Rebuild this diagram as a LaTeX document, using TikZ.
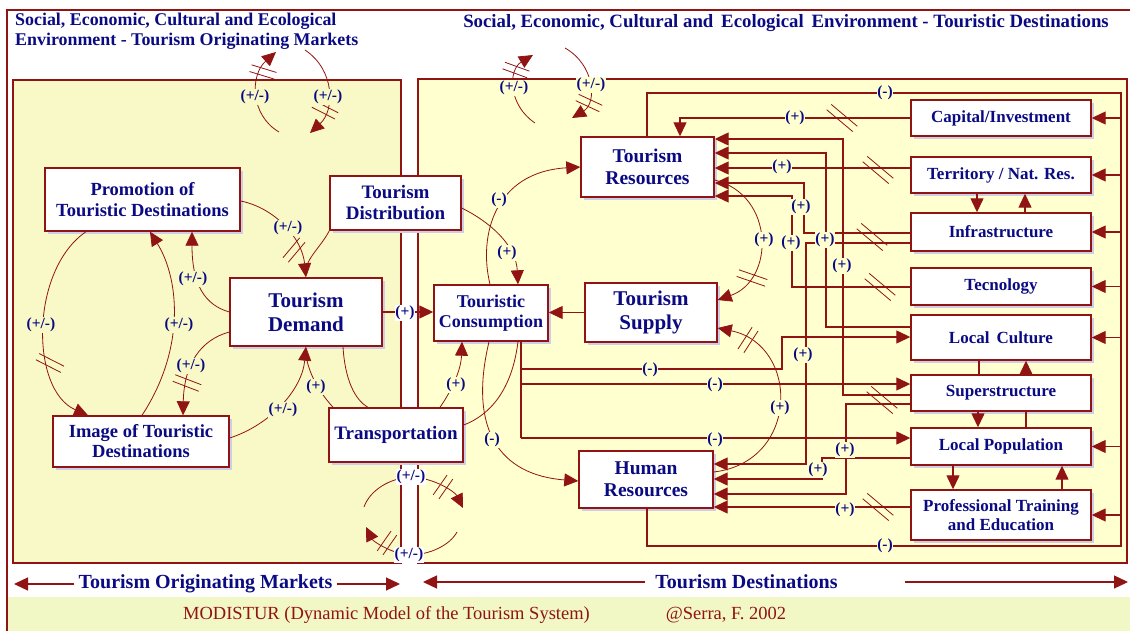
\documentclass[tikz,border=0pt]{standalone}
\usepackage{fontspec}
\setmainfont{Liberation Serif}
\usetikzlibrary{arrows.meta,shadows}

\definecolor{linkred}{RGB}{145,20,20}
\definecolor{textblue}{RGB}{10,10,130}
\definecolor{origfill}{RGB}{248,249,198}
\definecolor{destfill}{RGB}{255,255,208}
\definecolor{bandfill}{RGB}{242,247,198}
\definecolor{shade}{RGB}{205,205,230}

% two short strokes across a link = delay
\newcommand{\delaymark}[3]{%
  \draw[delayline] (#1) ++(#2+90:3.5) ++(#2:-#3/2) -- ++(#2:#3);
  \draw[delayline] (#1) ++(#2-90:3.5) ++(#2:-#3/2) -- ++(#2:#3);
}

\begin{document}
\begin{tikzpicture}[x=1pt,y=-1pt,
  box/.style={draw=linkred,line width=1.4pt,fill=white,align=center,text=textblue,inner sep=1pt,
    drop shadow={shadow xshift=3pt,shadow yshift=-3pt,fill=shade,opacity=1}},
  rbox/.style={box,minimum width=180pt,minimum height=36pt,font=\fontsize{17}{19}\selectfont\bfseries},
  link/.style={draw=linkred,line width=1.3pt},
  curv/.style={draw=linkred,line width=0.8pt},
  arr/.style={-{Triangle[length=14pt,width=13pt]}},
  lbl/.style={text=textblue,font=\fontsize{15.5}{15.5}\selectfont\bfseries,inner sep=0.5pt,fill=destfill},
  delayline/.style={draw=linkred,line width=0.8pt},
  panel/.style={draw=linkred,line width=2.5pt},
  bandtext/.style={text=textblue,font=\fontsize{20}{20}\selectfont\bfseries,inner sep=0pt},
]
\useasboundingbox (0,0) rectangle (1130,631);

% frame and the two panels
\fill[bandfill] (7,597) rectangle (1132,633);
\draw[linkred,line width=1.2pt] (1132,10) -- (7,10) -- (7,633);
\draw[panel,fill=origfill] (13,80) rectangle (401,563);
\draw[panel,fill=destfill] (418,79) rectangle (1127,563);

\node[anchor=north west,align=left,text=textblue,inner sep=0pt,
  font=\fontsize{17.9}{20}\selectfont\bfseries] (origtitle) at (15,13)
  {Social, Economic, Cultural and Ecological\\Environment - Tourism Originating Markets};
\node[anchor=base,text=textblue,inner sep=0pt,font=\fontsize{18.8}{20}\selectfont\bfseries]
  (desttitle) at (786,28)
  {Social, Economic, Cultural and\, Ecological\, Environment - Touristic Destinations};

% originating markets
\node[box,minimum width=195pt,minimum height=63pt,font=\fontsize{18.5}{21}\selectfont\bfseries]
  (prom) at (142.5,199.5) {Promotion of\\Touristic Destinations};
\node[box,minimum width=131pt,minimum height=54pt,font=\fontsize{19}{21}\selectfont\bfseries]
  (dist) at (395.5,203) {Tourism\\Distribution};
\node[box,minimum width=152pt,minimum height=68pt,font=\fontsize{21}{24}\selectfont\bfseries]
  (dem) at (306,312) {Tourism\\Demand};
\node[box,minimum width=134pt,minimum height=54pt,font=\fontsize{19}{21}\selectfont\bfseries]
  (transp) at (396,435) {Transportation};
\node[box,minimum width=176pt,minimum height=51pt,font=\fontsize{18.5}{20}\selectfont\bfseries]
  (img) at (141,441.5) {Image of Touristic\\Destinations};

% destinations
\node[box,minimum width=114pt,minimum height=56pt,font=\fontsize{18}{20}\selectfont\bfseries]
  (cons) at (491,313) {Touristic\\Consumption};
\node[box,minimum width=132pt,minimum height=59pt,font=\fontsize{21}{24}\selectfont\bfseries]
  (sup) at (651,312.5) {Tourism\\Supply};
\node[box,minimum width=133pt,minimum height=60pt,font=\fontsize{19.5}{22}\selectfont\bfseries]
  (res) at (647.5,167) {Tourism\\Resources};
\node[box,minimum width=134pt,minimum height=57pt,font=\fontsize{19.5}{22}\selectfont\bfseries]
  (hr) at (646,479.5) {Human\\Resources};

\node[rbox] (cap) at (1001,118) {Capital/Investment};
\node[rbox] (terr) at (1001,175) {Territory / Nat. Res.};
\node[rbox,minimum height=38pt] (infra) at (1001,232) {Infrastructure};
\node[rbox,minimum height=37pt] (tec) at (1001,286.5) {Tecnology};
\node[rbox,minimum height=45pt] (cult) at (1001,337.5) {Local\, Culture};
\node[rbox] (supstr) at (1001,393) {Superstructure};
\node[rbox,minimum height=37pt] (pop) at (1001,446.5) {Local Population};
\node[rbox,minimum height=50pt] (train) at (1001,515) {Professional Training\\and Education};

% loops in the originating markets
\draw[curv,arr] (prom.east |- 0,201) .. controls (275,208) and (302,238) .. (dem.north);
\draw[curv] (dist.south west) .. controls (322,245) and (309,256) .. (dem.north |- 0,268);
\draw[curv,arr] (dem.west |- 0,312) .. controls (205,305) and (192,285) .. (192,0 |- prom.south);
\draw[curv,arr] (dem.west |- 0,332) .. controls (200,340) and (184,365) .. (183,0 |- img.north);
\draw[curv,arr] (142,0 |- img.north) .. controls (185,350) and (180,280) .. (150,0 |- prom.south);
\draw[curv,arr] (86,0 |- prom.south) .. controls (30,270) and (30,390) .. (88,0 |- img.north);
\draw[curv,arr] (img.east |- 0,438) .. controls (270,425) and (302,390) .. (dem.south);
\draw[curv] (333,0 |- transp.north) .. controls (322,395) and (310,378) .. (dem.south |- 0,356);
\draw[curv] (343,0 |- dem.south) .. controls (345,380) and (355,400) .. (368,0 |- transp.north);
\draw[link,arr] (dem.east) -- (cons.west |- dem.east);

% environment loops
\draw[curv,arr] (279,132) .. controls (250,115) and (250,75) .. (276,52);
\draw[curv,arr] (305,50) .. controls (335,70) and (335,110) .. (310,133);
\draw[curv,arr] (535,123) .. controls (508,105) and (508,70) .. (533,55);
\draw[curv,arr] (565,48) .. controls (595,65) and (597,103) .. (572,118);
\draw[curv,arr] (364,507) .. controls (370,490) and (390,478) .. (411,477)
  .. controls (435,478) and (455,492) .. (463,508);
\draw[curv,arr] (457,532) .. controls (450,545) and (430,555) .. (409,555)
  .. controls (390,553) and (373,541) .. (366,527);

% loops in the destinations
\draw[curv,arr] (dist.east |- 0,208) .. controls (490,222) and (516,245) .. (518,0 |- cons.north);
\draw[curv,arr] (490,0 |- cons.north) .. controls (478,235) and (495,172) .. (res.west);
\draw[curv,arr] (res.east |- 0,180) .. controls (775,195) and (775,280) .. (sup.east |- 0,300);
\draw[curv,arr] (hr.east |- 0,472) .. controls (800,462) and (800,345) .. (sup.east |- 0,328);
\draw[curv,arr] (489,0 |- cons.south) .. controls (468,430) and (500,475) .. (hr.west |- 0,481);
\draw[curv] (518,0 |- cons.south) .. controls (512,390) and (490,415) .. (transp.east |- 0,425);
\draw[curv,arr] (440,0 |- transp.north) .. controls (452,390) and (461,370) .. (462,0 |- cons.south);
\draw[link,arr] (sup.west) -- (cons.east |- sup.west);

% feedback from resources and human resources
\draw[link] (647,0 |- res.north) -- (647,93) -- (1121,93) -- (1121,546) -- (647,546) -- (647,0 |- hr.south);
\foreach \b in {cap,terr,infra,tec,cult,pop,train}
  \draw[link,arr] (1121,0 |- \b.east) -- (\b.east);

\draw[link,arr] (cap.west) -- (680,118) -- (680,0 |- res.north);
\draw[link,arr] (supstr.west |- 0,395) -- (843,395) -- (843,139) -- (res.east |- 0,139);
\draw[link,arr] (cult.west |- 0,327) -- (826,327) -- (826,153) -- (res.east |- 0,153);
\draw[link,arr] (terr.west |- 0,168) -- (res.east |- 0,168);
\draw[link,arr] (infra.west |- 0,233) -- (804,233) -- (804,183) -- (res.east |- 0,183);
\draw[link,arr] (tec.west |- 0,287) -- (792,287) -- (792,196) -- (res.east |- 0,196);

\draw[link,arr] (infra.west |- 0,243) -- (806,243) -- (806,464) -- (hr.east |- 0,464);
\draw[link,arr] (pop.west |- 0,458) -- (822,458) -- (822,479) -- (hr.east |- 0,479);
\draw[link,arr] (supstr.west |- 0,404) -- (846,404) -- (846,494) -- (hr.east |- 0,494);
\draw[link,arr] (train.west |- 0,507) -- (hr.east |- 0,507);

\draw[link] (521,0 |- cons.south) -- (521,438);
\draw[link,arr] (521,369) -- (782,369) -- (782,337) -- (cult.west |- 0,337);
\draw[link,arr] (521,384) -- (supstr.west |- 0,384);
\draw[link,arr] (521,438) -- (pop.west |- 0,438);

% between the environment boxes
\draw[link,arr] (977,0 |- terr.south) -- (977,0 |- infra.north);
\draw[link,arr] (1025,0 |- infra.north) -- (1025,0 |- terr.south);
\draw[link] (979,0 |- cult.south) -- (979,0 |- supstr.north);
\draw[link,arr] (1026,0 |- supstr.north) -- (1026,0 |- cult.south);
\draw[link,arr] (978,0 |- supstr.south) -- (978,0 |- pop.north);
\draw[link] (1026,0 |- pop.north) -- (1026,0 |- supstr.south);
\draw[link,arr] (953,0 |- pop.south) -- (953,0 |- train.north);
\draw[link,arr] (1062,0 |- train.north) -- (1062,0 |- pop.south);

% delays
\delaymark{294,250}{-50}{26}
\delaymark{50,363}{27}{28}
\delaymark{187,383}{21}{28}
\delaymark{263,72}{17}{26}
\delaymark{325,110}{27}{26}
\delaymark{516,70}{20}{26}
\delaymark{589,103}{25}{26}
\delaymark{443,487}{-55}{24}
\delaymark{387,543}{-55}{24}
\delaymark{842,118}{40}{34}
\delaymark{878,170}{40}{34}
\delaymark{872,237}{40}{34}
\delaymark{880,287}{40}{34}
\delaymark{882,400}{40}{34}
\delaymark{878,507}{40}{34}
\delaymark{752,278}{19}{30}
\delaymark{748,340}{-57}{26}

% polarities
\foreach \x/\y [count=\i] in {288/228,193/279,191/366,179/325,41/325,283/410,255/97,328/97}
  \node[lbl,fill=origfill] (pmo\i) at (\x,\y) {(+/-)};
\node[lbl,fill=origfill] (plo1) at (316,387) {(+)};
\node[lbl,fill=white] (plg1) at (405,313) {(+)};
\foreach \x/\y [count=\i] in {411/477,409/555}
  \node[lbl,fill=white] (pmg\i) at (\x,\y) {(+/-)};
\foreach \x/\y [count=\i] in {514/88,591/85}
  \node[lbl] (pmd\i) at (\x,\y) {(+/-)};
\foreach \x/\y [count=\i] in {795/118,782/167,801/207,764/240,791/243,825/240,842/266,
    803/355,780/408,845/450,818/470,845/510,507/253,456/385}
  \node[lbl] (pld\i) at (\x,\y) {(+)};
\foreach \x/\y [count=\i] in {885/93,885/546,650/370,715/385,715/440,499/200,492/440}
  \node[lbl] (mid\i) at (\x,\y) {(-)};

% bottom band
\node[bandtext,inner xsep=4pt] (origmk) at (205.5,584) {Tourism Originating Markets};
\draw[link,arr] (origmk.west) -- (14,0 |- origmk.west);
\draw[link,arr] (origmk.east) -- (400,0 |- origmk.east);
\node[bandtext,inner xsep=10pt] (destmk) at (746.5,582) {Tourism Destinations};
\coordinate (destr) at (905,582);
\draw[link,arr] (destmk.west) -- (423,0 |- destmk.west);
\draw[link,arr] (destr) -- (1128,582);

\node[anchor=base,text=linkred,inner sep=0pt,font=\fontsize{18.5}{20}\selectfont] (modis) at (386.5,619)
  {MODISTUR (Dynamic Model of the Tourism System)};
\node[anchor=base,text=linkred,inner sep=0pt,font=\fontsize{18.5}{20}\selectfont] (serra) at (726,619)
  {@Serra, F. 2002};
\end{tikzpicture}
\end{document}
